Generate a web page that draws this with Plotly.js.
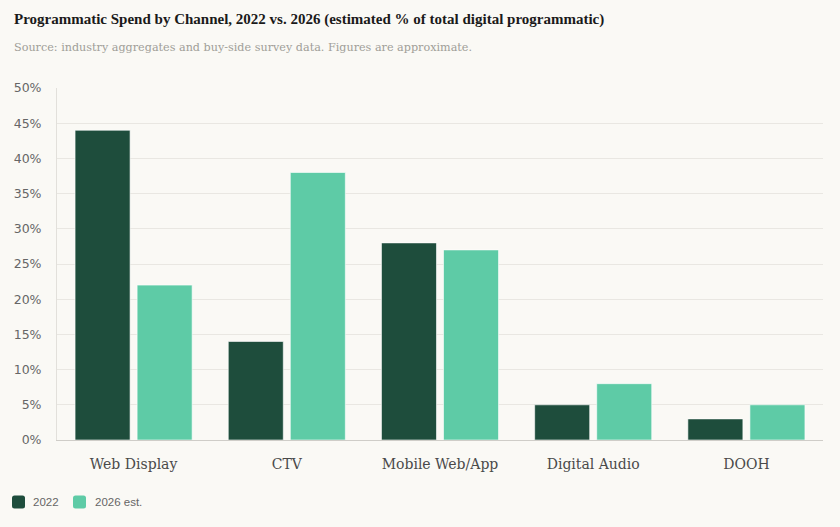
<!DOCTYPE html>
<html>
<head>
<meta charset="utf-8">
<script src="https://cdn.plot.ly/plotly-3.0.1.min.js"></script>
<style>
  html, body { margin: 0; padding: 0; background: #faf9f5; }
  #chart { width: 840px; height: 527px; }
</style>
</head>
<body>
<div id="chart"></div>
<script>
// Channel categories and share of total digital programmatic spend (%)
const channels = ["Web Display", "CTV", "Mobile Web/App", "Digital Audio", "DOOH"];
const spend2022 = [44, 14, 28, 5, 3];
const spend2026 = [22, 38, 27, 8, 5];
const seriesNames = ["2022", "2026 est."];
const seriesColors = ["#1e4d3c", "#5ecba6"];
const tickValues = [0, 5, 10, 15, 20, 25, 30, 35, 40, 45, 50];
const tickLabels = tickValues.map(v => v + "%");

const W = 840, H = 527;
const M = { l: 57, r: 17, t: 88, b: 87 };
const plotW = W - M.l - M.r, plotH = H - M.t - M.b;
// pixel position -> paper fraction
const px = x => (x - M.l) / plotW;
const py = y => (H - M.b - y) / plotH;

const barLine = { color: "rgba(255,255,255,0.6)", width: 1 };

const traces = [spend2022, spend2026].map((vals, i) => ({
  type: "bar",
  name: seriesNames[i],
  x: channels,
  y: vals,
  marker: { color: seriesColors[i], line: barLine },
  hovertemplate: "%{x}<br>" + seriesNames[i] + ": %{y}%<extra></extra>"
}));

// Legend row below the chart: rounded swatch + label per series
const legendItems = [{ sx: 12, tx: 31 }, { sx: 73, tx: 93 }];
const legendY = 502;
const roundRect = (x0, y0, x1, y1, r) => {
  const X0 = px(x0), X1 = px(x1), Y0 = py(y0), Y1 = py(y1);
  const rx = r / plotW, ry = r / plotH;
  return `M${X0 + rx},${Y0} L${X1 - rx},${Y0} Q${X1},${Y0} ${X1},${Y0 - ry} ` +
         `L${X1},${Y1 + ry} Q${X1},${Y1} ${X1 - rx},${Y1} L${X0 + rx},${Y1} ` +
         `Q${X0},${Y1} ${X0},${Y1 + ry} L${X0},${Y0 - ry} Q${X0},${Y0} ${X0 + rx},${Y0} Z`;
};
const legendShapes = legendItems.map((it, i) => ({
  type: "path", xref: "paper", yref: "paper",
  path: roundRect(it.sx, legendY - 6.5, it.sx + 13, legendY + 6.5, 2.5),
  fillcolor: seriesColors[i], line: { width: 0 }
}));
const legendLabels = legendItems.map((it, i) => ({
  xref: "paper", yref: "paper",
  x: px(it.tx), y: py(legendY),
  xanchor: "left", yanchor: "middle", showarrow: false,
  text: seriesNames[i],
  font: { family: "Liberation Sans, Arial, sans-serif", size: 11.5, color: "#666" }
}));

const layout = {
  width: W,
  height: H,
  paper_bgcolor: "#faf9f5",
  plot_bgcolor: "#faf9f5",
  margin: { l: M.l, r: M.r, t: M.t, b: M.b, autoexpand: false },
  barmode: "group",
  bargap: 0.19,
  bargroupgap: 0.113,
  showlegend: false,
  xaxis: {
    type: "category",
    showgrid: false,
    showline: true,
    linecolor: "#cfcdc8",
    linewidth: 1,
    ticks: "",
    tickfont: { family: "DejaVu Serif, serif", size: 14, color: "#4a4a4a" },
    ticklabelstandoff: 11
  },
  yaxis: {
    range: [0, 50],
    tickvals: tickValues,
    ticktext: tickLabels,
    showgrid: true,
    gridcolor: "#e9e7e2",
    gridwidth: 1,
    zeroline: false,
    showline: true,
    linecolor: "#e2e0db",
    ticks: "",
    tickfont: { family: "DejaVu Sans, sans-serif", size: 12.5, color: "#666" },
    ticklabelstandoff: 12
  },
  shapes: legendShapes,
  annotations: [
    {
      xref: "paper", yref: "paper",
      x: px(12), y: py(19),
      xanchor: "left", yanchor: "middle",
      showarrow: false,
      text: "<b>Programmatic Spend by Channel, 2022 vs. 2026 (estimated % of total digital programmatic)</b>",
      font: { family: "Liberation Serif, serif", size: 15, color: "#1a1a1a" }
    },
    {
      xref: "paper", yref: "paper",
      x: px(12), y: py(47),
      xanchor: "left", yanchor: "middle",
      showarrow: false,
      text: "Source: industry aggregates and buy-side survey data. Figures are approximate.",
      font: { family: "DejaVu Serif, serif", size: 11.2, color: "#a09e98" }
    }
  ].concat(legendLabels)
};

Plotly.newPlot("chart", traces, layout, { displayModeBar: false, responsive: false });
</script>
</body>
</html>
